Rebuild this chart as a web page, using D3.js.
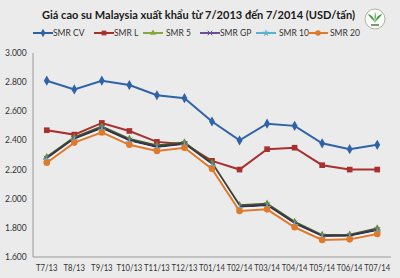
<!DOCTYPE html>
<html><head><meta charset="utf-8">
<script src="https://cdn.jsdelivr.net/npm/d3@7"></script>
<style>body{margin:0;background:#ebebeb;}svg{display:block;}</style>
</head><body>
<script>
const categories = ["T7/13","T8/13","T9/13","T10/13","T11/13","T12/13","T01/14","T02/14","T03/14","T04/14","T05/14","T06/14","T07/14"];
const smrCV = [2810,2750,2810,2780,2710,2690,2530,2400,2515,2500,2380,2340,2370];
const smrL  = [2470,2440,2520,2465,2390,2375,2260,2200,2340,2350,2230,2200,2200];
const smr5  = [2285,2420,2495,2410,2365,2385,2245,1955,1965,1840,1750,1752,1795];
const smrGP = [2275,2410,2485,2400,2355,2375,2235,1945,1955,1830,1742,1745,1785];
const smr10 = [2262,2398,2470,2385,2340,2362,2222,1930,1940,1816,1730,1733,1770];
const smr20 = [2247,2385,2455,2370,2327,2350,2205,1916,1927,1804,1717,1721,1758];
const yTicks = [1600,1800,2000,2200,2400,2600,2800,3000];

const series = [
  {name:"SMR CV", values:smrCV, color:"#2f63a8", marker:"diamond"},
  {name:"SMR L", values:smrL, color:"#a8302f", marker:"square"},
  {name:"SMR  5", values:smr5, color:"#84a83e", line:"#3f5a28", marker:"triangle"},
  {name:"SMR GP", values:smrGP, color:"#6a4f98", line:"#3a3050", marker:"x"},
  {name:"SMR  10", values:smr10, color:"#5ab3d0", line:"#f4f4f4", marker:"star"},
  {name:"SMR 20", values:smr20, color:"#e07a2a", marker:"circle"}
];

const W=400,H=278, FONT="Lato, 'Open Sans', sans-serif";
const svg=d3.select("body").append("svg").attr("width",W).attr("height",H);
svg.append("rect").attr("width",W).attr("height",H).attr("fill","#ebebeb");

const x=d3.scalePoint().domain(categories).range([33,391]).padding(0.5);
const y=d3.scaleLinear().domain([1600,3000]).range([257,53]);

// title
svg.append("text").attr("x",42).attr("y",19)
  .attr("font-family",FONT).attr("font-weight","bold").attr("font-size",11.5)
  .attr("textLength",313).attr("lengthAdjust","spacingAndGlyphs")
  .attr("fill","#1a1a1a").text("Giá cao su Malaysia  xuất khẩu từ 7/2013 đến 7/2014 (USD/tấn)");

// logo
const lg=svg.append("g").attr("transform","translate(375,19)");
lg.append("circle").attr("r",10).attr("fill","#fafafa").attr("stroke","#a8b8a0").attr("stroke-width",1);
lg.append("path").attr("d","M0,4 C-2,0 -6,-2 -7,-5 C-3,-4 -1,-1 0,4 Z").attr("fill","#3a9a3a");
lg.append("path").attr("d","M0,4 C2,0 6,-2 7,-5 C3,-4 1,-1 0,4 Z").attr("fill","#3a9a3a");
lg.append("path").attr("d","M0,3 C-1,-1 0,-5 0,-7 C1,-5 1,-1 0,3 Z").attr("fill","#3a9a3a");
lg.append("rect").attr("x",-4).attr("y",5).attr("width",8).attr("height",2).attr("fill","#7a9a70");

// axes
svg.append("line").attr("x1",33).attr("x2",33).attr("y1",53).attr("y2",257).attr("stroke","#9a9a9a").attr("stroke-width",1);
svg.append("line").attr("x1",33).attr("x2",391).attr("y1",257).attr("y2",257).attr("stroke","#9a9a9a").attr("stroke-width",1);

const fmt=v=>d3.format(",")(v).replace(",",".");
svg.selectAll(".yt").data(yTicks).enter().append("text")
  .attr("x",5).attr("y",d=>y(d)+3).attr("font-family",FONT).attr("font-size",8.5)
  .attr("fill","#333").text(fmt);
svg.selectAll(".xt").data(categories).enter().append("text")
  .attr("x",d=>x(d)).attr("y",271).attr("text-anchor","middle").attr("font-family",FONT)
  .attr("font-size",8.5).attr("fill","#333")
  .attr("textLength",d=>d.length*4.3).attr("lengthAdjust","spacingAndGlyphs").text(d=>d);

function marker(g,type,color,s){
  const sym={diamond:d3.symbolDiamond,square:d3.symbolSquare,triangle:d3.symbolTriangle,circle:d3.symbolCircle,star:d3.symbolStar,x:d3.symbolTimes};
  const sz={diamond:30,square:32,triangle:24,circle:34,star:24,x:22};
  const p=g.append("path").attr("d",d3.symbol().type(sym[type]).size(sz[type]*(s||1))());
  if(type==="x") p.attr("fill","none").attr("stroke",color).attr("stroke-width",1);
  else p.attr("fill",color);
  return p;
}

const line=d3.line().x((d,i)=>x(categories[i])).y(d=>y(d));
series.forEach(s=>{
  svg.append("path").attr("d",line(s.values)).attr("fill","none")
    .attr("stroke",s.line||s.color).attr("stroke-width",s.line?2.2:2);
  s.values.forEach((v,i)=>{
    const g=svg.append("g").attr("transform",`translate(${x(categories[i])},${y(v)})`);
    marker(g,s.marker,s.marker==="triangle"?"#6f8a3a":s.color);
  });
});

// legend
const legX=[33,94,143,200,256,308];
const legTx=[53,114,166,220,279,330];
series.forEach((s,i)=>{
  svg.append("line").attr("x1",legX[i]).attr("x2",legX[i]+20).attr("y1",33).attr("y2",33)
    .attr("stroke",s.color).attr("stroke-width",2);
  const g=svg.append("g").attr("transform",`translate(${legX[i]+10},33)`);
  marker(g,s.marker,s.color,0.7);
  svg.append("text").attr("x",legTx[i]).attr("y",36).attr("font-family",FONT)
    .attr("font-size",8.5).attr("fill","#333").text(s.name);
});
</script>
</body></html>
